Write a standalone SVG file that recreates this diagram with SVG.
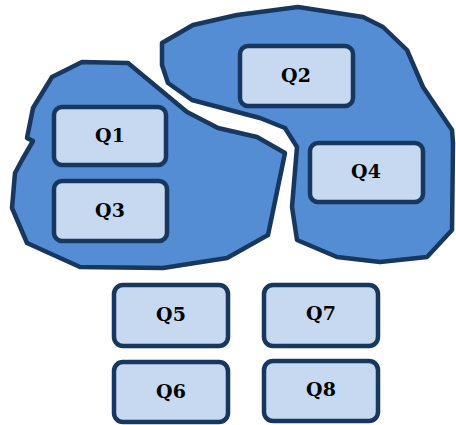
<svg xmlns="http://www.w3.org/2000/svg" width="456" height="425" viewBox="0 0 456 425">
<style>
.blob{fill:#548DD4;stroke:#17375E;stroke-width:4.5;stroke-linejoin:round}
.box{fill:#C6D9F1;stroke:#17375E;stroke-width:4.5}
.lbl{font-family:"DejaVu Serif","Liberation Serif",serif;font-weight:bold;font-size:19px;fill:#000;text-anchor:middle;dominant-baseline:central}
</style>
<g id="blob-left">
<path class="blob" d="M82,62 L128,63 L187,112 L218,128 L257,137 L285,153 L268,235 L227,258 L163,268 L80,267 L27,243 L12,208 L15,173 L22,160 L33,141 L27,138 L33,108 L52,77 Z"/>
</g>
<g id="blob-right">
<path class="blob" d="M162,43 L193,25 L237,15 L298,7 L363,17 L383,27 L407,50 L423,87 L452,130 L453,143 L452,230 L427,257 L380,262 L337,257 L297,240 L292,207 L297,147 L285,128 L260,118 L192,100 L168,83 L162,65 Z"/>
</g>
<g id="Q1"><rect class="box" x="54" y="107" width="112" height="58" rx="8"/><text class="lbl" x="110" y="135">Q1</text></g>
<g id="Q3"><rect class="box" x="54" y="181" width="113" height="60" rx="8"/><text class="lbl" x="110" y="210">Q3</text></g>
<g id="Q2"><rect class="box" x="240" y="46" width="113" height="60" rx="8"/><text class="lbl" x="296" y="75">Q2</text></g>
<g id="Q4"><rect class="box" x="310" y="143" width="113" height="59" rx="8"/><text class="lbl" x="366" y="171">Q4</text></g>
<g id="Q5"><rect class="box" x="114" y="285" width="114" height="61" rx="9"/><text class="lbl" x="171" y="314">Q5</text></g>
<g id="Q7"><rect class="box" x="264" y="285" width="114" height="61" rx="9"/><text class="lbl" x="321" y="313">Q7</text></g>
<g id="Q6"><rect class="box" x="114" y="362" width="114" height="60" rx="9"/><text class="lbl" x="171" y="391">Q6</text></g>
<g id="Q8"><rect class="box" x="264" y="361" width="114" height="60" rx="9"/><text class="lbl" x="321" y="389">Q8</text></g>
<g id="connectors"></g>
</svg>
